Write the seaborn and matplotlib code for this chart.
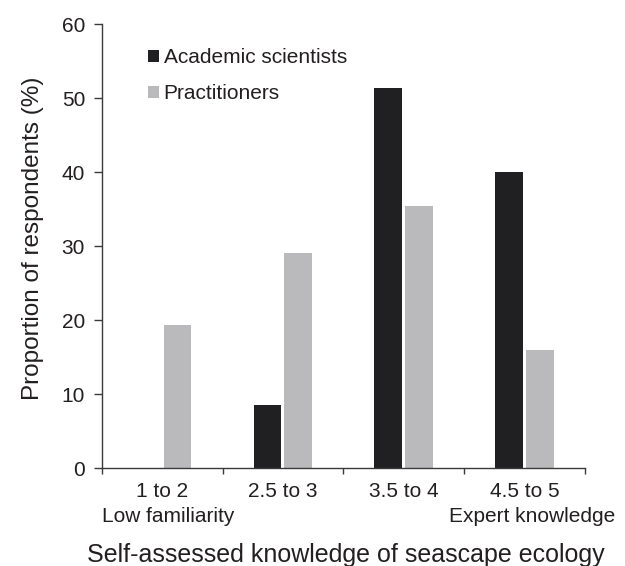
import matplotlib
matplotlib.use("Agg")
import matplotlib.pyplot as plt
import seaborn as sns
import pandas as pd
from matplotlib.ticker import FixedLocator, NullFormatter

categories = ["1 to 2", "2.5 to 3", "3.5 to 4", "4.5 to 5"]
academic = [0.0, 8.5, 51.4, 40.0]
practitioners = [19.3, 29.0, 35.4, 16.0]
groups = ["Academic scientists", "Practitioners"]
yticks = [0, 10, 20, 30, 40, 50, 60]

df = pd.DataFrame({
    "cat": categories * 2,
    "group": [groups[0]] * 4 + [groups[1]] * 4,
    "value": academic + practitioners,
})

sns.set_style("white")
plt.rcParams["font.family"] = ["Liberation Sans", "DejaVu Sans"]
TXT = "#231f20"
AX = "#3a3a3a"

fig = plt.figure(figsize=(6.25, 5.66), dpi=100)
ax = fig.add_axes([101.7 / 625, 1 - 468 / 566, 483.3 / 625, 444 / 566])

sns.barplot(data=df, x="cat", y="value", hue="group", order=categories,
            hue_order=groups, palette=["#1f2024", "#b9babd"],
            width=0.51, gap=0.1, linewidth=0, edgecolor="none", ax=ax)

ax.set_xlim(-0.5, 3.5)
ax.set_ylim(0, 60)
ax.set_yticks(yticks)
ax.set_yticklabels([str(v) for v in yticks])

# category boundary ticks (major) and centered labels (minor)
ax.xaxis.set_major_locator(FixedLocator([-0.5, 0.5, 1.5, 2.5, 3.5]))
ax.xaxis.set_major_formatter(NullFormatter())
ax.xaxis.set_minor_locator(FixedLocator([0, 1, 2, 3]))
ax.set_xticklabels(categories, minor=True)
ax.tick_params(axis="x", which="major", direction="out", length=4, width=1, color=AX, bottom=True)
ax.tick_params(axis="x", which="minor", length=0, pad=10, labelsize=15, labelcolor=TXT)
ax.tick_params(axis="y", direction="out", length=6, width=1, color=AX, left=True,
               pad=6, labelsize=15, labelcolor=TXT)

for s in ["top", "right"]:
    ax.spines[s].set_visible(False)
for s in ["left", "bottom"]:
    ax.spines[s].set_color(AX)
    ax.spines[s].set_linewidth(1.0)

ax.set_xlabel("Self-assessed knowledge of seascape ecology", fontsize=18, color=TXT)
ax.xaxis.set_label_coords(0.505, -0.17)
ax.set_ylabel("Proportion of respondents (%)", fontsize=17.5, color=TXT)
ax.yaxis.set_label_coords(-0.119, 0.518)

tr = ax.get_xaxis_transform()
ax.text(-0.5, -0.11, "Low familiarity", transform=tr, ha="left", va="center",
        fontsize=15, color=TXT)
ax.text(3.75, -0.11, "Expert knowledge", transform=tr, ha="right", va="center",
        fontsize=15, color=TXT, clip_on=False)

handles, labels = ax.get_legend_handles_labels()
ax.legend(handles, labels, loc="upper left", bbox_to_anchor=(0.096, 0.946),
          frameon=False, fontsize=15, handlelength=0.5, handleheight=0.5,
          handletextpad=0.25, labelspacing=0.83, borderpad=0, borderaxespad=0,
          labelcolor=TXT)

fig.savefig("out.png", dpi=100)
